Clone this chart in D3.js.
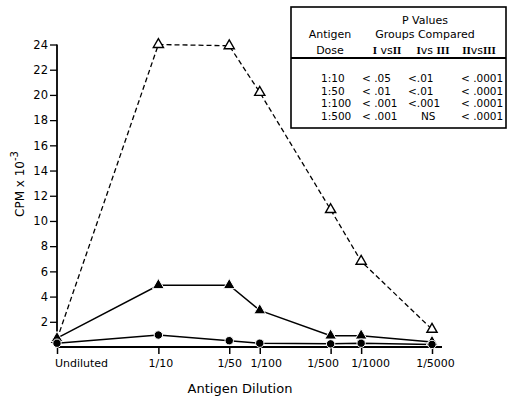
<!DOCTYPE html>
<html>
<head>
<meta charset="utf-8">
<script src="https://cdn.jsdelivr.net/npm/d3@7"></script>
<style>
  body { margin: 0; background: #fff; }
  svg { font-family: "DejaVu Sans", sans-serif; }
</style>
</head>
<body>
<svg id="chart" width="509" height="400"></svg>
<script>
const dilutions = [1, 10, 50, 100, 500, 1000, 5000];
const dilutionLabels = ['Undiluted', '1/10', '1/50', '1/100', '1/500', '1/1000', '1/5000'];
const yTicks = [2, 4, 6, 8, 10, 12, 14, 16, 18, 20, 22, 24];

// CPM x 10^-3 per group
const groupOpen = [0.6, 24.0, 23.9, 20.2, 10.9, 6.8, 1.4];
const groupFilledTri = [0.7, 4.9, 4.9, 2.9, 0.9, 0.9, 0.4];
const groupCircle = [0.3, 0.95, 0.5, 0.3, 0.25, 0.3, 0.2];

const tableDoses = ['1:10', '1:50', '1:100', '1:500'];
const pIvsII = ['< .05', '< .01', '< .001', '< .001'];
const pIvsIII = ['<.01', '<.01', '<.001', 'NS'];
const pIIvsIII = ['< .0001', '< .0001', '< .0001', '< .0001'];

const svg = d3.select('#chart');

const x = d3.scaleLog().domain([1, 5000]).range([57, 432]);
const y = d3.scaleLinear().domain([0, 24]).range([347, 44.5]);

// axes (font attrs after .call, the axis resets them)
const labelShift = [24, 2, 0, 6, -8, 9, 3];
const xAxis = d3.axisBottom(x)
  .tickValues(dilutions)
  .tickFormat((d, i) => dilutionLabels[i])
  .tickSize(7)
  .tickPadding(5);
const gx = svg.append('g')
  .attr('transform', 'translate(0,347)')
  .call(xAxis)
  .attr('font-family', null)
  .attr('font-size', 11);
gx.select('.domain').attr('d', 'M57,0H442').attr('stroke-width', 1.8);
gx.selectAll('.tick line').attr('stroke-width', 1.5);
gx.selectAll('.tick text')
  .attr('dx', (d, i) => labelShift[i]);

const yAxis = d3.axisLeft(y)
  .tickValues(yTicks)
  .tickSize(7)
  .tickPadding(2);
const gy = svg.append('g')
  .attr('transform', 'translate(57,0)')
  .call(yAxis)
  .attr('font-family', null)
  .attr('font-size', 11.5);
gy.select('.domain').attr('d', 'M0,44.5V347').attr('stroke-width', 1.8);
gy.selectAll('.tick line').attr('stroke-width', 1.3);

// axis titles
svg.append('text')
  .attr('x', 240).attr('y', 393)
  .attr('text-anchor', 'middle')
  .attr('font-size', 13)
  .text('Antigen Dilution');

const ylab = svg.append('text')
  .attr('transform', 'translate(24,184) rotate(-90)')
  .attr('text-anchor', 'middle')
  .attr('font-size', 12);
ylab.append('tspan').text('CPM x 10');
ylab.append('tspan').attr('dy', -6).attr('font-size', 10).text('-3');

// lines
const line = d3.line()
  .x((d, i) => x(dilutions[i]))
  .y(d => y(d));

svg.append('path').datum(groupCircle)
  .attr('d', line).attr('fill', 'none')
  .attr('stroke', '#000').attr('stroke-width', 1.5);
svg.append('path').datum(groupFilledTri)
  .attr('d', line).attr('fill', 'none')
  .attr('stroke', '#000').attr('stroke-width', 1.5);
svg.append('path').datum(groupOpen)
  .attr('d', line).attr('fill', 'none')
  .attr('stroke', '#000').attr('stroke-width', 1.3)
  .attr('stroke-dasharray', '5,3');

// markers
const tri = d3.symbol().type(d3.symbolTriangle);
svg.selectAll('.open').data(groupOpen).join('path')
  .attr('class', 'open')
  .attr('transform', (d, i) => `translate(${x(dilutions[i])},${y(d)})`)
  .attr('d', tri.size(45)())
  .attr('fill', '#fff').attr('stroke', '#000').attr('stroke-width', 1.4);
svg.selectAll('.ftri').data(groupFilledTri).join('path')
  .attr('class', 'ftri')
  .attr('transform', (d, i) => `translate(${x(dilutions[i])},${y(d)})`)
  .attr('d', tri.size(60)())
  .attr('fill', '#000').attr('stroke', '#fff').attr('stroke-width', 1);
svg.selectAll('.circ').data(groupCircle).join('circle')
  .attr('class', 'circ')
  .attr('cx', (d, i) => x(dilutions[i]))
  .attr('cy', d => y(d))
  .attr('r', 4.2)
  .attr('fill', '#000').attr('stroke', '#fff').attr('stroke-width', 1);

// P value table
const tbl = svg.append('g').attr('font-size', 11);
tbl.append('rect')
  .attr('x', 291).attr('y', 7).attr('width', 215).attr('height', 121)
  .attr('fill', '#fff').attr('stroke', '#000').attr('stroke-width', 1.6);
tbl.append('line')
  .attr('x1', 291).attr('x2', 506).attr('y1', 58).attr('y2', 58)
  .attr('stroke', '#000').attr('stroke-width', 2);

tbl.append('text').attr('x', 425).attr('y', 24).attr('text-anchor', 'middle').text('P Values');
tbl.append('text').attr('x', 425).attr('y', 38).attr('text-anchor', 'middle').text('Groups Compared');
tbl.append('text').attr('x', 330).attr('y', 38).attr('text-anchor', 'middle').text('Antigen');
tbl.append('text').attr('x', 330).attr('y', 54).attr('text-anchor', 'middle').text('Dose');

const colHead = [['I', ' vs', 'II', 387], ['I', 'vs ', 'III', 433], ['II', 'vs', 'III', 479]];
colHead.forEach(c => {
  const t = tbl.append('text').attr('x', c[3]).attr('y', 54).attr('text-anchor', 'middle');
  t.append('tspan').attr('font-family', 'Liberation Serif, serif').attr('font-weight', 'bold').text(c[0]);
  t.append('tspan').text(c[1]);
  t.append('tspan').attr('font-family', 'Liberation Serif, serif').attr('font-weight', 'bold').text(c[2]);
});

const rowY = [82, 94.5, 107, 119.5];
const rows = tbl.append('g').attr('font-size', 10.5);
tableDoses.forEach((d, i) => {
  rows.append('text').attr('x', 321).attr('y', rowY[i]).text(d);
  rows.append('text').attr('x', 362).attr('y', rowY[i]).text(pIvsII[i]);
  rows.append('text').attr('x', i === 3 ? 421 : 408).attr('y', rowY[i]).text(pIvsIII[i]);
  rows.append('text').attr('x', 461).attr('y', rowY[i]).text(pIIvsIII[i]);
});
</script>
</body>
</html>
